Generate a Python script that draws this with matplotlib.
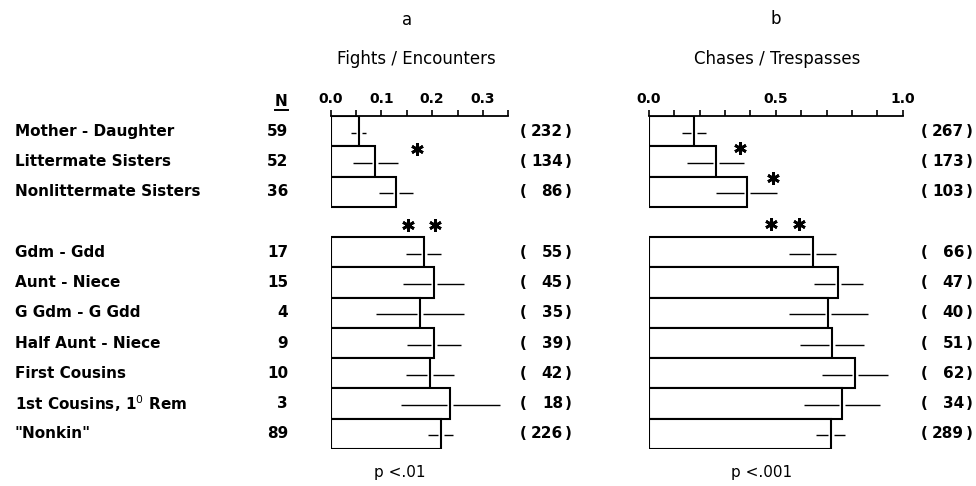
import matplotlib.pyplot as plt
from matplotlib.lines import Line2D
from matplotlib.transforms import blended_transform_factory

# Relationship categories and sample sizes
labels = ['Mother - Daughter', 'Littermate Sisters', 'Nonlittermate Sisters',
          'Gdm - Gdd', 'Aunt - Niece', 'G Gdm - G Gdd', 'Half Aunt - Niece',
          'First Cousins', '1st Cousins, 1$^{0}$ Rem', '"Nonkin"']
n_pairs = [59, 52, 36, 17, 15, 4, 9, 10, 3, 89]
rows = [0, 1, 2, 4, 5, 6, 7, 8, 9, 10]

# panel a: fights / encounters
fights = [0.055, 0.088, 0.129, 0.183, 0.203, 0.176, 0.203, 0.196, 0.236, 0.217]
fights_err = [0.015, 0.045, 0.034, 0.035, 0.060, 0.087, 0.053, 0.047, 0.098, 0.025]
encounters = [232, 134, 86, 55, 45, 35, 39, 42, 18, 226]

# panel b: chases / trespasses
chases = [0.179, 0.263, 0.385, 0.645, 0.746, 0.707, 0.720, 0.812, 0.760, 0.716]
chases_err = [0.047, 0.113, 0.120, 0.093, 0.097, 0.156, 0.126, 0.130, 0.151, 0.058]
trespasses = [267, 173, 103, 66, 47, 40, 51, 62, 34, 289]

W, H = 976, 486
fig = plt.figure(figsize=(W / 100, H / 100), dpi=100)
fig.patch.set_facecolor('white')
plt.rcParams['font.family'] = ['DejaVu Sans']
FS = 11


def px_axes(x0, x1, y_top, y_bot):
    return fig.add_axes([x0 / W, (H - y_bot) / H, (x1 - x0) / W, (y_bot - y_top) / H])


def draw_panel(ax, vals, errs, xmax, major, minor, gap):
    for r, v, e in zip(rows, vals, errs):
        ax.barh(r, v, height=1.0, color='white', edgecolor='black', linewidth=1.5, zorder=2)
        ax.hlines(r + 0.05, v - e, v - gap, color='black', linewidth=1.0, zorder=3)
        ax.hlines(r + 0.05, v + gap, v + e, color='black', linewidth=1.0, zorder=3)
    ax.set_xlim(0, xmax)
    ax.set_ylim(10.5, -0.5)
    for s in ['left', 'right', 'bottom']:
        ax.spines[s].set_visible(False)
    ax.spines['top'].set_linewidth(1.3)
    ax.xaxis.set_ticks_position('top')
    ax.set_xticks(major)
    ax.set_xticklabels(['%.1f' % t for t in major])
    ax.set_xticks(minor, minor=True)
    ax.tick_params(axis='x', which='both', direction='out', length=4.5, width=1.2,
                   labelsize=10, pad=3)
    for t in ax.get_xticklabels():
        t.set_fontweight('bold')
    ax.set_yticks([])
    ax.patch.set_alpha(0)


ax_a = px_axes(330.7, 508.3, 116, 449)
draw_panel(ax_a, fights, fights_err, 0.35, [0.0, 0.1, 0.2, 0.3],
           [0.05, 0.15, 0.25, 0.35], 0.006)
ax_b = px_axes(649, 902.7, 116, 449)
draw_panel(ax_b, chases, chases_err, 1.0, [0.0, 0.5, 1.0],
           [0.1, 0.2, 0.3, 0.4, 0.6, 0.7, 0.8, 0.9], 0.012)

# significance stars
star = dict(marker=(6, 2, 0), markersize=9, markeredgewidth=2.0, color='black',
            linestyle='none', clip_on=False)
ax_a.plot([0.170, 0.153, 0.206], [0.6, 3.1, 3.1], **star)
ax_b.plot([0.36, 0.49, 0.48, 0.59], [0.57, 1.54, 3.07, 3.07], **star)

# row labels, N column and counts
tr = blended_transform_factory(fig.transFigure, ax_a.transData)
bold = dict(transform=tr, va='center', fontsize=FS, fontweight='bold')
for r, lab, n, c1, c2 in zip(rows, labels, n_pairs, encounters, trespasses):
    fig.text(15 / W, r, lab, ha='left', **bold)
    fig.text(288 / W, r, str(n), ha='right', **bold)
    fig.text(520 / W, r, '(', ha='left', **bold)
    fig.text(563 / W, r, str(c1), ha='right', **bold)
    fig.text(565 / W, r, ')', ha='left', **bold)
    fig.text(921 / W, r, '(', ha='left', **bold)
    fig.text(964 / W, r, str(c2), ha='right', **bold)
    fig.text(966 / W, r, ')', ha='left', **bold)

fig.text(281 / W, 1 - 101 / H, 'N', ha='center', va='center', fontsize=FS, fontweight='bold')
fig.add_artist(Line2D([275 / W, 288 / W], [1 - 110 / H, 1 - 110 / H], color='black',
                      linewidth=1.4, transform=fig.transFigure))

# titles and p-values
fig.text(407 / W, 1 - 20 / H, 'a', ha='center', va='center', fontsize=12)
fig.text(416 / W, 1 - 59 / H, 'Fights / Encounters', ha='center', va='center', fontsize=12)
fig.text(776 / W, 1 - 19 / H, 'b', ha='center', va='center', fontsize=12)
fig.text(777 / W, 1 - 59 / H, 'Chases / Trespasses', ha='center', va='center', fontsize=12)
fig.text(400 / W, 1 - 472 / H, 'p <.01', ha='center', va='center', fontsize=11)
fig.text(762 / W, 1 - 472 / H, 'p <.001', ha='center', va='center', fontsize=11)

fig.savefig('out.png', dpi=100, facecolor='white')
